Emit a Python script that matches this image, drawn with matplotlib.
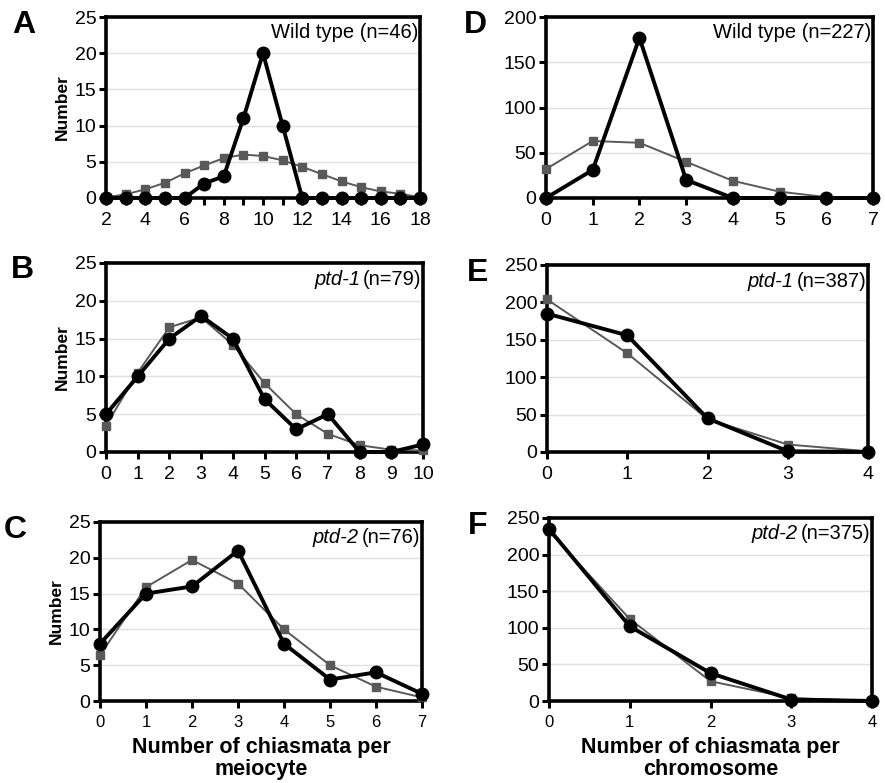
import matplotlib
matplotlib.use('Agg')
import matplotlib.pyplot as plt

plt.rcParams['font.family'] = ['Liberation Sans', 'DejaVu Sans']

# Chiasmata per meiocyte (observed = black circles, expected = grey squares)
a_x = list(range(2, 19))
a_obs = [0, 0, 0, 0, 0, 2, 3, 11, 20, 10, 0, 0, 0, 0, 0, 0, 0]
a_exp = [0.1, 0.5, 1.2, 2.1, 3.4, 4.5, 5.5, 6.0, 5.8, 5.2, 4.3, 3.3, 2.3,
         1.5, 0.9, 0.6, 0.1]

b_x = list(range(0, 11))
b_obs = [5, 10, 15, 18, 15, 7, 3, 5, 0, 0, 1]
b_exp = [3.5, 10.5, 16.5, 17.8, 14.2, 9.1, 5.0, 2.4, 0.9, 0.3, 0.2]

c_x = list(range(0, 8))
c_obs = [8, 15, 16, 21, 8, 3, 4, 1]
c_exp = [6.4, 15.9, 19.7, 16.4, 10.0, 5.0, 2.0, 0.5]

# Chiasmata per chromosome
d_x = list(range(0, 8))
d_obs = [0, 31, 177, 20, 0, 0, 0, 0]
d_exp = [32, 63, 61, 40, 19, 7, 1, 0.3]

e_x = list(range(0, 5))
e_obs = [185, 156, 45, 1, 0]
e_exp = [204, 132, 44, 10, 1]

f_x = list(range(0, 5))
f_obs = [235, 102, 38, 2, 0]
f_exp = [232, 112, 27, 4, 0]


def px_rect(left, right, top, bottom, W=885, H=783):
    return [left / W, 1 - bottom / H, (right - left) / W, (bottom - top) / H]


def draw_panel(ax, x, obs, exp, ymax, ystep, label, note, geno=None,
               xstep=1, xfs=14, yfs=14, ylabel=True):
    ax.plot(x, exp, color='#595959', lw=1.4, marker='s', ms=5.5,
            clip_on=False, zorder=3)
    ax.plot(x, obs, color='black', lw=2.8, marker='o', ms=9,
            clip_on=False, zorder=4)
    ax.set_xlim(x[0], x[-1])
    ax.set_ylim(0, ymax)
    ax.set_xticks(x)
    ax.set_xticklabels([str(v) if (v - x[0]) % xstep == 0 else ''
                        for v in x])
    ax.set_yticks(range(0, ymax + 1, ystep))
    ax.yaxis.grid(True, color='#e0e0e0', lw=1)
    ax.set_axisbelow(True)
    for s in ax.spines.values():
        s.set_linewidth(2.6)
    ax.tick_params(axis='both', direction='out', length=5, width=2.2)
    ax.tick_params(axis='x', labelsize=xfs, pad=5)
    ax.tick_params(axis='y', labelsize=yfs, pad=2)
    if ylabel:
        ax.set_ylabel('Number', fontsize=12.5, fontweight='bold',
                      labelpad=3)
    t = ax.text(0.995, 0.965, note, transform=ax.transAxes, ha='right',
                va='top', fontsize=14.5)
    if geno:
        ax.annotate(geno, xy=(0, 0), xycoords=t, xytext=(-2, 0),
                    textcoords='offset points', ha='right', va='bottom',
                    fontsize=14.5, style='italic')
    ax.text(-0.30 if ylabel else -0.25, 1.04, label, transform=ax.transAxes,
            fontsize=23, fontweight='bold', ha='left', va='top')


fig = plt.figure(figsize=(8.85, 7.83), dpi=100)

ax_a = fig.add_axes(px_rect(106, 420, 17, 198))
draw_panel(ax_a, a_x, a_obs, a_exp, 25, 5, 'A', 'Wild type (n=46)', xstep=2)

ax_b = fig.add_axes(px_rect(106, 423, 263, 452))
draw_panel(ax_b, b_x, b_obs, b_exp, 25, 5, 'B', '(n=79)', geno='ptd-1')

ax_c = fig.add_axes(px_rect(100, 422, 522, 701))
draw_panel(ax_c, c_x, c_obs, c_exp, 25, 5, 'C', '(n=76)', geno='ptd-2',
           xfs=12)
ax_c.set_xlabel('Number of chiasmata per\nmeiocyte', fontsize=15.5,
                fontweight='bold', labelpad=5, linespacing=1.05)

ax_d = fig.add_axes(px_rect(546, 873, 17, 198))
draw_panel(ax_d, d_x, d_obs, d_exp, 200, 50, 'D', 'Wild type (n=227)',
           ylabel=False)

ax_e = fig.add_axes(px_rect(547, 868, 265, 452))
draw_panel(ax_e, e_x, e_obs, e_exp, 250, 50, 'E', '(n=387)', geno='ptd-1',
           ylabel=False)

ax_f = fig.add_axes(px_rect(549, 872, 518, 701))
draw_panel(ax_f, f_x, f_obs, f_exp, 250, 50, 'F', '(n=375)', geno='ptd-2',
           xfs=12, ylabel=False)
ax_f.set_xlabel('Number of chiasmata per\nchromosome', fontsize=15.5,
                fontweight='bold', labelpad=5, linespacing=1.05)

fig.savefig('out.png', dpi=100)
